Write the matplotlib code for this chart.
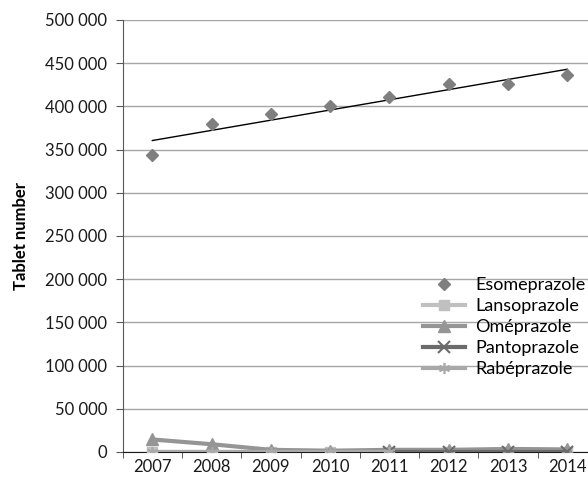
import numpy as np
import matplotlib.pyplot as plt

plt.rcParams['font.family'] = ['Lato', 'DejaVu Sans']

# tablet counts per year
years = ['2007', '2008', '2009', '2010', '2011', '2012', '2013', '2014']
esomeprazole = [344000, 380000, 391000, 400000, 411000, 426000, 426000, 436000]
lansoprazole = [0, 0, 0, 0, 0, 0, 0, 0]
omeprazole = [14500, 9000, 2500, 1500, 2500, 2500, 3500, 3000]
pantoprazole = [np.nan, np.nan, np.nan, np.nan, 0, 0, 0, 0]
rabeprazole = [0, 0, 0, 0, 0, np.nan, np.nan, np.nan]

x = np.arange(len(years))

fig = plt.figure(figsize=(5.88, 4.83), dpi=100)
ax = fig.add_axes([122.7 / 588, 31 / 483, 474.3 / 588, 432 / 483])

# esomeprazole points and linear trend
ax.plot(x, esomeprazole, linestyle='none', marker='D', markersize=6.5,
        color='#7f7f7f', label='Esomeprazole', zorder=5)
coef = np.polyfit(x, esomeprazole, 1)
ax.plot(x, np.polyval(coef, x), color='black', linewidth=1, zorder=4)

ax.plot(x, lansoprazole, color='#c0c0c0', linewidth=3, marker='s',
        markersize=7, label='Lansoprazole', zorder=3)
ax.plot(x, omeprazole, color='#959595', linewidth=3, marker='^',
        markersize=8, label='Oméprazole', zorder=3)
ax.plot(x, pantoprazole, color='#6b6b6b', linewidth=3, marker='x',
        markersize=8, markeredgewidth=1.5, label='Pantoprazole', zorder=3)
ax.plot(x, rabeprazole, color='#a8a8a8', linewidth=3, marker=(6, 2, 0),
        markersize=8, markeredgewidth=1.2, label='Rabéprazole', zorder=3)

ax.set_xlim(-0.5, 7.5)
ax.set_ylim(0, 500000)
ax.set_yticks(np.arange(0, 500001, 50000))
ax.set_yticklabels([f'{v:,}'.replace(',', ' ') for v in range(0, 500001, 50000)],
                   fontsize=12, color='#1a1a1a')
ax.set_xticks(x)
ax.set_xticklabels(years, fontsize=12, color='#1a1a1a')
ax.set_xticks(np.arange(-0.5, 8, 1), minor=True)
ax.tick_params(axis='x', which='major', length=0, pad=5)
ax.tick_params(axis='x', which='minor', length=4, direction='out', color='#404040')
ax.tick_params(axis='y', length=5, direction='out', color='#595959', pad=6)

ax.grid(axis='y', color='#a6a6a6', linewidth=1)
ax.set_axisbelow(True)
for s in ['top', 'right']:
    ax.spines[s].set_visible(False)
ax.spines['left'].set_color('#595959')
ax.spines['bottom'].set_color('#1a1a1a')

ax.set_ylabel('Tablet number', fontsize=12, fontweight='bold', labelpad=12)

ax.legend(loc='upper left', bbox_to_anchor=(423 / 588, 1 - 277 / 483),
          bbox_transform=fig.transFigure, frameon=False, fontsize=13,
          handlelength=2.3, handletextpad=0.6, labelspacing=0.28, borderpad=0,
          borderaxespad=0)

fig.savefig('out.png', dpi=100)
